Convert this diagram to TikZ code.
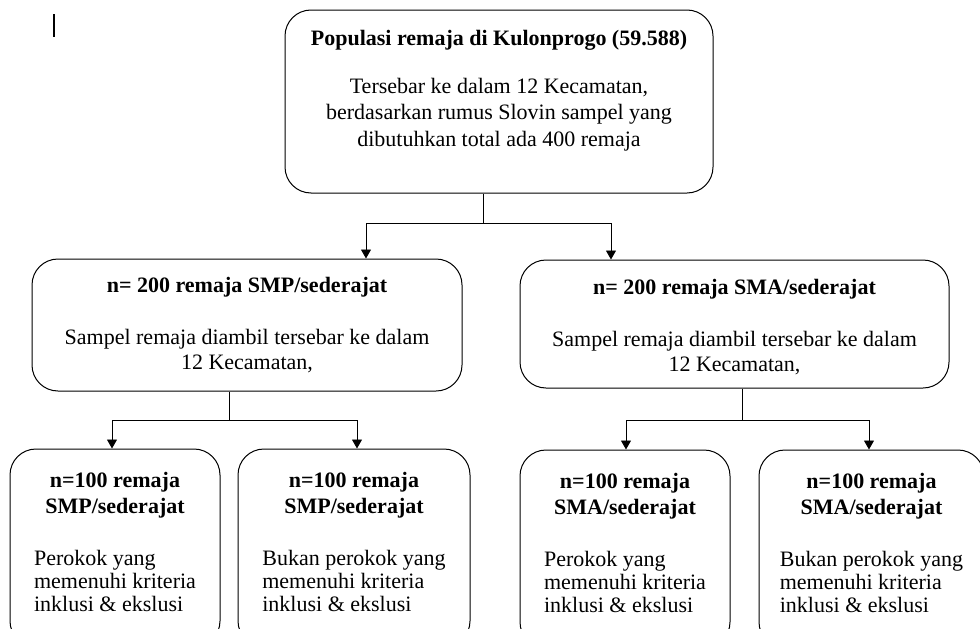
\documentclass[tikz,border=0pt]{standalone}
\usepackage{fontspec}
\setmainfont{Liberation Serif}
\usetikzlibrary{arrows.meta,positioning}
\renewcommand{\arraystretch}{0.9}

\tikzset{
  kotak/.style={draw, line width=1pt, rounded corners=26pt},
  isi/.style={inner sep=0pt, align=center, font=\fontsize{22}{25.5}\selectfont},
  garis/.style={line width=0.9pt},
  panah/.style={garis, -{Triangle[width=10pt,length=9pt]}}
}

\begin{document}
\begin{tikzpicture}[x=1pt,y=-1pt]
\useasboundingbox (0,0) rectangle (980,629);
\clip (0,0) rectangle (980,629);
\draw[line width=2pt] (54,14) -- (54,37);
% kotak-kotak
\node[kotak, minimum width=428pt, minimum height=183pt] (pop) at (499,101.5) {};
\node[kotak, minimum width=430pt, minimum height=132pt] (smp) at (247,325) {};
\node[kotak, minimum width=429pt, minimum height=128pt] (sma) at (734.5,324) {};
\node[kotak, minimum width=210pt, minimum height=198pt] (smp1) at (115,548) {};
\node[kotak, minimum width=232pt, minimum height=198pt] (smp2) at (354,548) {};
\node[kotak, minimum width=210pt, minimum height=198pt] (sma1) at (625,549) {};
\node[kotak, minimum width=225pt, minimum height=198pt] (sma2) at (871.5,549) {};
% isi teks
\node[isi, font=\fontsize{22}{26.5}\selectfont, below=21pt of pop.north] (popt) {\textbf{Populasi remaja di Kulonprogo (59.588)}\\[21pt]
  Tersebar ke dalam 12 Kecamatan,\\ berdasarkan rumus Slovin sampel yang\\ dibutuhkan total ada 400 remaja};
\node[isi, below=19pt of smp.north] (smpt) {\textbf{n= 200 remaja SMP/sederajat}\\[26pt]
  Sampel remaja diambil tersebar ke dalam\\ 12 Kecamatan,};
\node[isi, below=20pt of sma.north] (smat) {\textbf{n= 200 remaja SMA/sederajat}\\[26pt]
  Sampel remaja diambil tersebar ke dalam\\ 12 Kecamatan,};
\node[isi, below=24pt of smp1.north] (smp1t) {\textbf{n=100 remaja}\\ \textbf{SMP/sederajat}\\[27pt]
  \begin{tabular}[t]{@{}l@{}}Perokok yang\\ memenuhi kriteria\\ inklusi \& ekslusi\end{tabular}};
\node[isi, below=24pt of smp2.north] (smp2t) {\textbf{n=100 remaja}\\ \textbf{SMP/sederajat}\\[27pt]
  \begin{tabular}[t]{@{}l@{}}Bukan perokok yang\\ memenuhi kriteria\\ inklusi \& ekslusi\end{tabular}};
\node[isi, below=24pt of sma1.north] (sma1t) {\textbf{n=100 remaja}\\ \textbf{SMA/sederajat}\\[27pt]
  \begin{tabular}[t]{@{}l@{}}Perokok yang\\ memenuhi kriteria\\ inklusi \& ekslusi\end{tabular}};
\node[isi, below=24pt of sma2.north] (sma2t) {\textbf{n=100 remaja}\\ \textbf{SMA/sederajat}\\[27pt]
  \begin{tabular}[t]{@{}l@{}}Bukan perokok yang\\ memenuhi kriteria\\ inklusi \& ekslusi\end{tabular}};
% garis cabang
\coordinate (j1) at (483,223);
\coordinate (l1) at (366,223);
\coordinate (r1) at (611,223);
\draw[garis] (pop.south -| j1) -- (j1);
\draw[garis] (l1) -- (r1);
\draw[panah] (l1) -- (l1 |- smp.north);
\draw[panah] (r1) -- (r1 |- sma.north);
\coordinate (j2) at (229,420);
\coordinate (l2) at (112,420);
\coordinate (r2) at (357,420);
\draw[garis] (smp.south -| j2) -- (j2);
\draw[garis] (l2) -- (r2);
\draw[panah] (l2) -- (l2 |- smp1.north);
\draw[panah] (r2) -- (r2 |- smp2.north);
\coordinate (j3) at (742,420);
\coordinate (l3) at (626,420);
\coordinate (r3) at (869,420);
\draw[garis] (sma.south -| j3) -- (j3);
\draw[garis] (l3) -- (r3);
\draw[panah] (l3) -- (l3 |- sma1.north);
\draw[panah] (r3) -- (r3 |- sma2.north);
\end{tikzpicture}
\end{document}
